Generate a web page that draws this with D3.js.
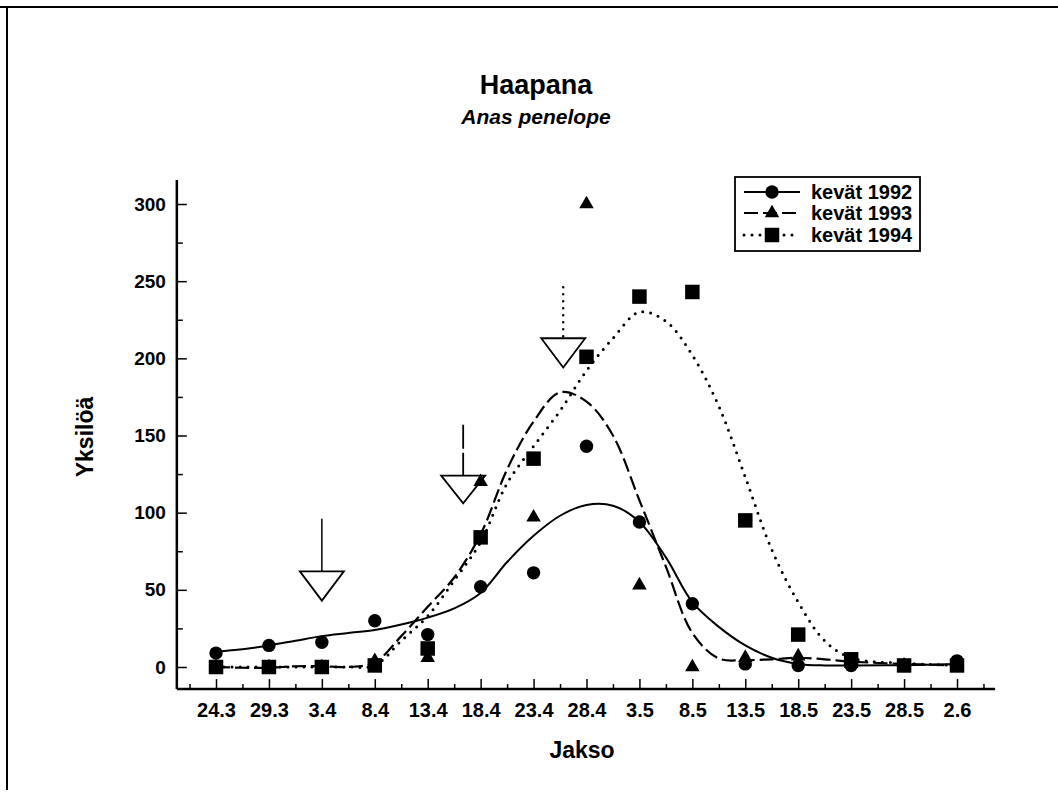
<!DOCTYPE html>
<html>
<head>
<meta charset="utf-8">
<script src="https://cdn.jsdelivr.net/npm/d3@7"></script>
<style>
  html, body { margin: 0; padding: 0; background: #fff; }
  svg { display: block; }
  text { font-family: "Liberation Sans", Arial, Helvetica, sans-serif; fill: #000; }
</style>
</head>
<body>
<svg id="chart" width="1058" height="799"></svg>
<script>
// ---------- DATA ----------
const categories = ["24.3","29.3","3.4","8.4","13.4","18.4","23.4","28.4","3.5","8.5","13.5","18.5","23.5","28.5","2.6"];
const yTicks = [0, 50, 100, 150, 200, 250, 300];
const yMinorTicks = [25, 75, 125, 175, 225, 275];

const seriesNames = ["kevät 1992", "kevät 1993", "kevät 1994"];
// observed counts (markers)
const obs1992 = [9, 14, 16, 30, 21, 52, 61, 143, 94, 41, 2, 1, 1, 1, 4];
const obs1993 = [0, 0, 0, 4, 6, 120, 97, 300, 53, 0, 6, 7, 2, 1, 1];
const obs1994 = [0, 0, 0, 1, 12, 84, 135, 201, 240, 243, 95, 21, 5, 1, 1];

// fitted smooth curves at these category positions
const fitPos  = [0, 0.5, 1, 1.5, 2, 2.5, 3, 3.5, 4, 4.5, 5, 5.5, 6, 6.5, 7, 7.5, 8, 8.5, 9, 9.5, 10, 10.5, 11, 11.5, 12, 13, 14];
const fit1992 = [10, 11.5, 14, 17, 20, 22, 24, 27.5, 32, 38, 48, 68, 85, 98, 105, 104.5, 94, 71, 42, 26, 14, 6, 2, 1, 1, 1.2, 2];
const fit1993 = [0, -0.5, -0.5, 0.5, 0.5, 0, 3, 20, 39, 58, 86, 128, 159, 178, 172, 150, 108, 65, 22, 5.5, 4.5, 5, 6, 5, 3.5, 2, 1];
const fit1994 = [0, 0, 0, 0, 0, 0, 1, 17, 33, 56, 81, 119, 143, 166, 192, 213, 230, 224, 202, 169, 123, 76, 42, 17, 6, 2.5, 1];

// arrival arrows (category position, value of line top, triangle base, tip)
const arrowPos  = [2, 4.67, 6.56];
const arrowTop  = [96, 157, 246];
const arrowBase = [62, 124, 213];
const arrowTip  = [43, 106, 194];

// ---------- LAYOUT ----------
const svg = d3.select("#chart");
const x = d3.scaleLinear().domain([0, 14]).range([216, 957]);
const y = d3.scaleLinear().domain([0, 300]).range([667, 204]);
const xExtent = [-0.74, 14.72];
const yExtent = [-14.3, 315.6];
const FONT = '"Liberation Sans", Arial, Helvetica, sans-serif';

// page border (top and left)
svg.append("line").attr("x1", 0).attr("x2", 1058).attr("y1", 7).attr("y2", 7)
  .attr("stroke", "#000").attr("stroke-width", 2);
svg.append("line").attr("x1", 7).attr("x2", 7).attr("y1", 7).attr("y2", 790)
  .attr("stroke", "#000").attr("stroke-width", 2);

// titles
svg.append("text").attr("x", 536).attr("y", 94).attr("text-anchor", "middle")
  .style("font-size", "27px").style("font-weight", "bold").text("Haapana");
svg.append("text").attr("x", 536).attr("y", 124).attr("text-anchor", "middle")
  .style("font-size", "21px").style("font-weight", "bold").style("font-style", "italic")
  .text("Anas penelope");

// ---------- AXES ----------
const xAxisY = y(yExtent[0]);
const yAxisX = x(xExtent[0]);

// x axis
const xAxis = d3.axisBottom(x).tickValues(d3.range(0, 15)).tickFormat(i => categories[i])
  .tickSizeInner(-10).tickSizeOuter(0).tickPadding(14);
const gx = svg.append("g").attr("transform", `translate(0,${xAxisY})`).call(xAxis);
gx.select(".domain").remove();
gx.selectAll(".tick line").attr("stroke", "#000").attr("stroke-width", 1.5);
gx.selectAll(".tick text").style("font-size", "20px").style("font-weight", "bold").style("font-family", FONT);
const xMinor = d3.axisBottom(x).tickValues(d3.range(-0.5, 15, 1)).tickFormat("").tickSizeInner(-5).tickSizeOuter(0);
const gxm = svg.append("g").attr("transform", `translate(0,${xAxisY})`).call(xMinor);
gxm.select(".domain").remove();
gxm.selectAll(".tick line").attr("stroke", "#000").attr("stroke-width", 1.5);

// y axis
const yAxis = d3.axisLeft(y).tickValues(yTicks).tickSizeInner(-10).tickSizeOuter(0).tickPadding(11);
const gy = svg.append("g").attr("transform", `translate(${yAxisX},0)`).call(yAxis);
gy.select(".domain").remove();
gy.selectAll(".tick line").attr("stroke", "#000").attr("stroke-width", 1.5);
gy.selectAll(".tick text").style("font-size", "19px").style("font-weight", "bold").style("font-family", FONT);
const yMinor = d3.axisLeft(y).tickValues(yMinorTicks).tickFormat("").tickSizeInner(-6).tickSizeOuter(0);
const gym = svg.append("g").attr("transform", `translate(${yAxisX},0)`).call(yMinor);
gym.select(".domain").remove();
gym.selectAll(".tick line").attr("stroke", "#000").attr("stroke-width", 1.5);

// axis lines
svg.append("line").attr("x1", x(xExtent[0])).attr("x2", x(xExtent[1]))
  .attr("y1", xAxisY).attr("y2", xAxisY).attr("stroke", "#000").attr("stroke-width", 2.5);
svg.append("line").attr("x1", yAxisX).attr("x2", yAxisX)
  .attr("y1", y(yExtent[0])).attr("y2", y(yExtent[1])).attr("stroke", "#000").attr("stroke-width", 2.5);

// axis titles
svg.append("text").attr("x", 582).attr("y", 758).attr("text-anchor", "middle")
  .style("font-size", "23px").style("font-weight", "bold").text("Jakso");
svg.append("text").attr("transform", "translate(93,437) rotate(-90)").attr("text-anchor", "middle")
  .style("font-size", "23px").style("font-weight", "bold").text("Yksilöä");

// ---------- CURVES ----------
const styles = [
  { dash: null, width: 2, cap: "butt" },
  { dash: "14,5", width: 2.2, cap: "butt" },
  { dash: "0,8", width: 3, cap: "round" }
];
const fits = [fit1992, fit1993, fit1994];
const line = d3.line().x(d => x(d[0])).y(d => y(d[1])).curve(d3.curveCatmullRom.alpha(0.5));
fits.forEach((f, k) => {
  const pts = fitPos.map((p, i) => [p, f[i]]);
  svg.append("path").attr("d", line(pts)).attr("fill", "none").attr("stroke", "#000")
    .attr("stroke-width", styles[k].width).attr("stroke-dasharray", styles[k].dash)
    .attr("stroke-linecap", styles[k].cap);
});

// ---------- ARROWS ----------
const arrowStyles = [
  { dash: null, width: 1.5, cap: "butt" },
  { dash: "24,4", width: 1.8, cap: "butt" },
  { dash: "0,7", width: 2.5, cap: "round" }
];
arrowPos.forEach((p, i) => {
  const cx = x(p);
  svg.append("line").attr("x1", cx).attr("x2", cx).attr("y1", y(arrowTop[i])).attr("y2", y(arrowBase[i]))
    .attr("stroke", "#000").attr("stroke-width", arrowStyles[i].width)
    .attr("stroke-dasharray", arrowStyles[i].dash).attr("stroke-linecap", arrowStyles[i].cap);
  const yb = y(arrowBase[i]), yt = y(arrowTip[i]);
  svg.append("path").attr("d", `M${cx - 22},${yb}L${cx + 22},${yb}L${cx},${yt}Z`)
    .attr("fill", "#fff").attr("stroke", "#000").attr("stroke-width", 1.8);
});

// ---------- MARKERS ----------
const symCircle = d3.symbol().type(d3.symbolCircle).size(Math.PI * 6.7 * 6.7);
const symTri = d3.symbol().type(d3.symbolTriangle).size(Math.sqrt(3) / 4 * 14.5 * 14.5);
const symSq = d3.symbol().type(d3.symbolSquare).size(14.5 * 14.5);
const markerSyms = [symCircle, symTri, symSq];
const obs = [obs1992, obs1993, obs1994];
[2, 1, 0].forEach(k => {
  svg.append("g").selectAll("path").data(obs[k]).join("path")
    .attr("transform", (d, i) => `translate(${x(i)},${y(d)})`)
    .attr("d", markerSyms[k]()).attr("fill", "#000");
});

// ---------- LEGEND ----------
const lg = svg.append("g");
lg.append("rect").attr("x", 735).attr("y", 177).attr("width", 185).attr("height", 74)
  .attr("fill", "#fff").attr("stroke", "#000").attr("stroke-width", 1.8);
const rowY = [192, 213, 235];
seriesNames.forEach((name, k) => {
  lg.append("line").attr("x1", 744).attr("x2", 800).attr("y1", rowY[k]).attr("y2", rowY[k])
    .attr("stroke", "#000").attr("stroke-width", styles[k].width)
    .attr("stroke-dasharray", styles[k].dash).attr("stroke-linecap", styles[k].cap);
  lg.append("path").attr("transform", `translate(772,${rowY[k]})`).attr("d", markerSyms[k]()).attr("fill", "#000");
  lg.append("text").attr("x", 811).attr("y", rowY[k] + 7)
    .style("font-size", "20px").style("font-weight", "bold").text(name);
});
</script>
</body>
</html>
